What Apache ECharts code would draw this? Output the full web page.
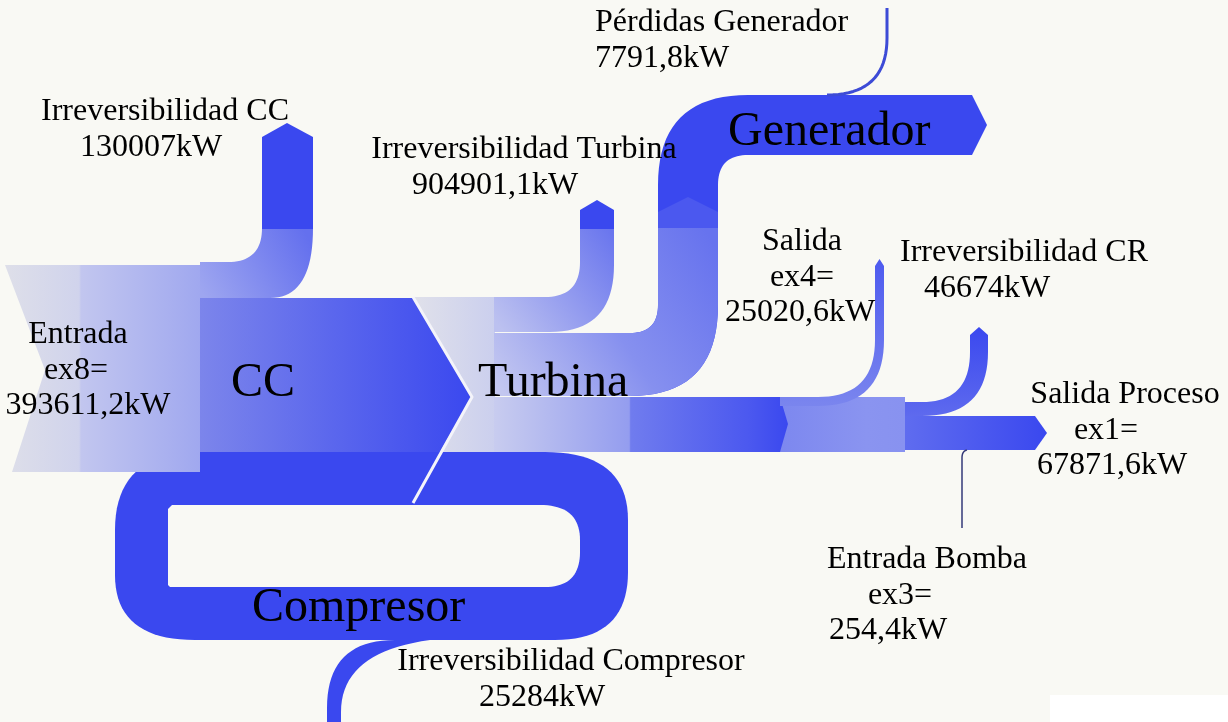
<!DOCTYPE html>
<html>
<head>
<meta charset="utf-8">
<title>Diagrama de exergía</title>
<script src="https://cdn.jsdelivr.net/npm/echarts@6.0.0/dist/echarts.min.js"></script>
<style>
  html, body { margin: 0; padding: 0; background: #f9f9f4; }
  #chart { width: 1228px; height: 722px; }
</style>
</head>
<body>
<div id="chart"></div>
<script>
const streamNames = ['Entrada', 'Irreversibilidad CC', 'Irreversibilidad Turbina', 'Pérdidas Generador',
  'Salida', 'Irreversibilidad CR', 'Salida Proceso', 'Entrada Bomba', 'Irreversibilidad Compresor']
const streamKeys = ['ex8=', '', '', '', 'ex4=', '', 'ex1=', 'ex3=', '']
const streamValues = [393611.2, 130007, 904901.1, 7791.8, 25020.6, 46674, 67871.6, 254.4, 25284]
const componentNames = ['CC', 'Turbina', 'Generador', 'Compresor']

// ---- esquema dibujado a mano (unidades de eje = pixeles del dibujo, no proporcional) ----
const DARK = '#3a48ef'
const BG = '#f9f9f4'
const streamLabelPos = [
  { x: [78, 76, 88], y: 335 },
  { x: [165, 151], y: 112 },
  { x: [524, 495], y: 150 },
  { x: [595, 595], y: 23, align: 'left' },
  { x: [802, 802, 800], y: 242 },
  { x: [1024, 987], y: 253 },
  { x: [1125, 1106, 1112], y: 395 },
  { x: [927, 900, 888], y: 560 },
  { x: [571, 542], y: 662 }
]
const componentLabelPos = [
  { x: 263, y: 383, align: 'center' },
  { x: 478, y: 383, align: 'left' },
  { x: 728, y: 132, align: 'left' },
  { x: 252, y: 608, align: 'left' }
]

// [x, y] = punto, [cx, cy, x, y] = curva cuadratica
const shapes = [
  // fondo blanco esquina
  { path: [[1050, 695], [1228, 695], [1228, 722], [1050, 722]], fill: '#ffffff' },
  // Compresor (lazo)
  { path: [[200, 452], [545, 452], [628, 452, 628, 520], [628, 572], [628, 640, 555, 640], [195, 640],
    [115, 640, 115, 575], [115, 530], [115, 452, 200, 452]], fill: DARK },
  { path: [[172, 505], [540, 505], [580, 505, 580, 540], [580, 552], [580, 587, 545, 587], [170, 587],
    [168, 585], [168, 509]], fill: BG },
  // Irreversibilidad Compresor
  { path: [[440, 630], [395, 630], [395, 640], [327, 640, 327, 708], [327, 722], [341, 722], [341, 712],
    [341, 652, 430, 640], [440, 630]], fill: DARK },
  // Entrada
  { path: [[5, 265], [200, 265], [200, 472], [12, 472], [45, 370]],
    fill: { from: [5, 0], to: [200, 0], stops: [[0, '#dedfe9'], [0.38, '#d0d3ec'], [0.39, '#c2c6ef'], [1, '#a0a8ef']] } },
  // Irreversibilidad CC
  { path: [[200, 262], [228, 262], [262, 262, 262, 228], [313, 228], [313, 298, 270, 298], [200, 298]],
    fill: { from: [305, 232], to: [200, 290], stops: [[0, '#6470ee'], [1, '#9ea6f0']] } },
  { path: [[262, 229], [262, 137], [287, 123], [313, 137], [313, 229]], fill: DARK },
  // CC
  { path: [[200, 298], [415, 298], [472, 397], [443, 452], [200, 452]],
    fill: { from: [200, 0], to: [472, 0], stops: [[0, '#7c85eb'], [0.5, '#5a66ed'], [1, DARK]] } },
  // Turbina (entrada clara)
  { path: [[413, 297], [495, 297], [495, 452], [440, 452], [472, 397]],
    fill: { from: [413, 0], to: [495, 0], stops: [[0, '#e0e1ea'], [1, '#cbcfee']] } },
  // Irreversibilidad Turbina
  { path: [[494, 297], [545, 297], [580, 297, 580, 262], [580, 228], [614, 228], [614, 265],
    [614, 332, 550, 332], [494, 332]],
    fill: { from: [612, 232], to: [494, 320], stops: [[0, '#6a76ee'], [1, '#bcc1f0']] } },
  { path: [[580, 229], [580, 210], [597, 200], [614, 210], [614, 229]], fill: DARK },
  // Generador
  { path: [[494, 333], [630, 333], [658, 333, 658, 305], [658, 185], [658, 95, 748, 95], [972, 95], [987, 125],
    [972, 155], [748, 155], [718, 155, 718, 185], [718, 305], [718, 396, 630, 396], [494, 396]], fill: DARK },
  { path: [[658, 229], [658, 212], [688, 197], [718, 212], [718, 229]], fill: '#4b58ef' },
  { path: [[494, 333], [630, 333], [658, 333, 658, 305], [658, 228], [718, 228], [718, 305],
    [718, 396, 630, 396], [494, 396]],
    fill: { from: [712, 240], to: [494, 380], stops: [[0, '#6773ee'], [0.5, '#8690ef'], [1, '#c3c7f0']] } },
  // CR
  { path: [[776, 397], [905, 397], [905, 452], [776, 452]],
    fill: { from: [776, 0], to: [905, 0], stops: [[0, '#7c87ef'], [0.7, '#8a94f0'], [1, '#8892f0']] } },
  // Turbina -> CR
  { path: [[494, 397], [780, 397], [788, 424], [780, 452], [494, 452]],
    fill: { from: [494, 0], to: [788, 0], stops: [[0, '#c8ccef'], [0.46, '#949def'], [0.465, '#707cee'],
      [0.87, '#4b58ef'], [1, DARK]] } },
  // Salida ex4
  { path: [[780, 397], [818, 397], [875, 397, 875, 340], [875, 266], [879.5, 259], [884, 266], [884, 340],
    [884, 406, 818, 406], [780, 406]],
    fill: { from: [0, 260], to: [0, 405], stops: [[0, '#4e5bef'], [1, '#7a85ee']] } },
  // Irreversibilidad CR
  { path: [[905, 402], [922, 402], [970, 402, 970, 352], [970, 335], [979, 327], [988, 335], [988, 352],
    [988, 416, 922, 416], [905, 416]],
    fill: { from: [0, 327], to: [0, 416], stops: [[0, DARK], [1, '#5e6aee']] } },
  // Salida Proceso
  { path: [[905, 416], [1035, 416], [1047, 433], [1035, 450], [905, 450]],
    fill: { from: [905, 0], to: [1047, 0], stops: [[0, '#5f6cef'], [1, DARK]] } },
  // lineas
  { path: [[413, 297], [472, 397], [413, 503]], line: '#f4f4fa', width: 3 },
  { path: [[887, 8], [887, 38], [887, 95, 827, 95]], line: '#3d4bd6', width: 3 },
  { path: [[962, 528], [962, 458], [962, 451, 967, 450]], line: '#353a78', width: 1.5 }
]

const fmt = v => String(v).replace('.', ',') + 'kW'
const labelItems = []
streamNames.forEach((name, i) => {
  const pos = streamLabelPos[i]
  const lines = [name]
  if (streamKeys[i]) lines.push(streamKeys[i])
  lines.push(fmt(streamValues[i]))
  lines.forEach((t, j) => {
    labelItems.push({ text: t, x: pos.x[j], y: pos.y + j * 35.5, align: pos.align || 'center', size: 32 })
  })
})
componentNames.forEach((name, i) => {
  const pos = componentLabelPos[i]
  labelItems.push({ text: name, x: pos.x, y: pos.y, align: pos.align, size: 48 })
})

function toPixels(path, api) {
  const pts = []
  let last = null
  path.forEach((p) => {
    if (p.length === 2) {
      pts.push(api.coord(p))
      last = p
    } else {
      const [cx, cy, x, y] = p
      for (let i = 1; i <= 20; i++) {
        const t = i / 20
        const u = 1 - t
        pts.push(api.coord([u * u * last[0] + 2 * u * t * cx + t * t * x, u * u * last[1] + 2 * u * t * cy + t * t * y]))
      }
      last = [x, y]
    }
  })
  return pts
}

function paint(fill, api) {
  if (typeof fill === 'string') return fill
  const a = api.coord(fill.from)
  const b = api.coord(fill.to)
  return new echarts.graphic.LinearGradient(a[0], a[1], b[0], b[1],
    fill.stops.map(s => ({ offset: s[0], color: s[1] })), true)
}

const chart = echarts.init(document.getElementById('chart'))
chart.setOption({
  backgroundColor: BG,
  animation: false,
  grid: { left: 0, right: 0, top: 0, bottom: 0 },
  xAxis: { type: 'value', min: 0, max: 1228, show: false },
  yAxis: { type: 'value', min: 0, max: 722, inverse: true, show: false },
  series: [
    {
      type: 'custom',
      coordinateSystem: 'cartesian2d',
      silent: true,
      clip: false,
      data: shapes.map((s, i) => [i, 0]),
      renderItem(params, api) {
        const s = shapes[params.dataIndex]
        const points = toPixels(s.path, api)
        if (s.line) {
          return {
            type: 'polyline',
            shape: { points },
            style: { stroke: s.line, lineWidth: s.width, fill: null, lineJoin: 'round' }
          }
        }
        return { type: 'polygon', shape: { points }, style: { fill: paint(s.fill, api) } }
      }
    },
    {
      type: 'custom',
      coordinateSystem: 'cartesian2d',
      silent: true,
      clip: false,
      z: 5,
      data: labelItems.map((l, i) => [i, 0]),
      renderItem(params, api) {
        const l = labelItems[params.dataIndex]
        const p = api.coord([l.x, l.y])
        return {
          type: 'text',
          style: {
            text: l.text,
            x: p[0],
            y: p[1],
            fill: '#000',
            font: l.size + 'px "Liberation Serif"',
            align: l.align,
            verticalAlign: 'middle'
          }
        }
      }
    }
  ]
})
</script>
</body>
</html>
